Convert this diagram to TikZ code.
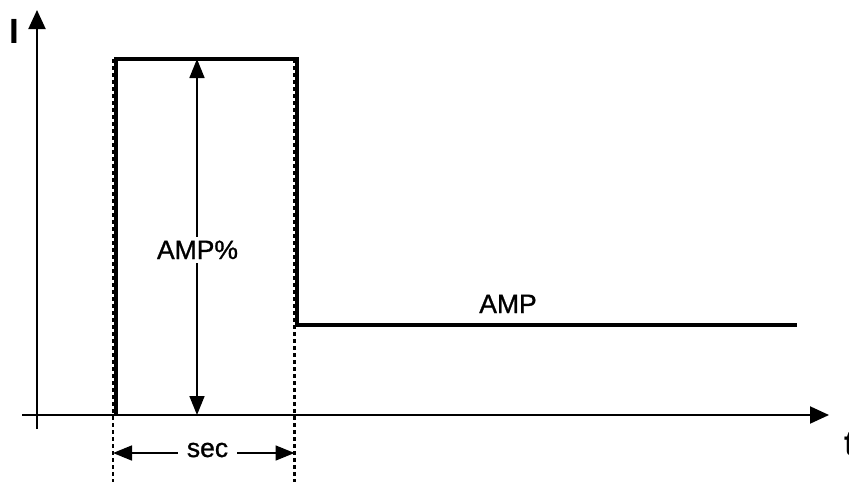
\documentclass[tikz,border=0pt]{standalone}
\usepackage{fontspec}
\setmainfont{Liberation Sans}
\newfontfamily\lblfont[FakeBold=1]{Liberation Sans}
\usetikzlibrary{arrows.meta}
\begin{document}
\begin{tikzpicture}[x=1pt,y=-1pt,
  axis/.style={line width=2pt,-{Triangle[length=19pt,width=17pt]}},
  pulse/.style={line width=4pt,line join=miter},
  guide/.style={line width=2.2pt,dash pattern=on 4pt off 3pt},
  dim/.style={line width=1.6pt,{Triangle[length=19pt,width=15pt]}-{Triangle[length=19pt,width=15pt]}},
  lbl/.style={font=\lblfont\fontsize{26.5}{26.5}\selectfont,inner sep=0pt,anchor=base},
  axlbl/.style={font=\bfseries\fontsize{35}{35}\selectfont,inner sep=0pt}]
\useasboundingbox (0,0) rectangle (849,482);
% coordinates
\coordinate (yb) at (37,429);
\coordinate (yt) at (37,10);
\coordinate (xl) at (22,415);
\coordinate (xr) at (829,415);
\coordinate (p0) at (116,415);
\coordinate (p1) at (116,59);
\coordinate (p2) at (297,59);
\coordinate (p3) at (297,325);
\coordinate (p4) at (797,325);
\coordinate (g1t) at (113,59);
\coordinate (g1b) at (113,482);
\coordinate (g2t) at (294.5,59);
\coordinate (g2b) at (294.5,482);
\coordinate (at) at (197,59);
\coordinate (ab) at (197,415);
\coordinate (sl) at (113,453);
\coordinate (sr) at (294.5,453);
% axes
\draw[axis] (yb) -- (yt);
\draw[axis] (xl) -- (xr);
\node[axlbl,anchor=base] (I) at (14.5,43) {I};
\node[axlbl,anchor=base west] (t) at (844,455) {t};
% pulse
\draw[pulse] (p0) -- (p1) -- (p2) -- (p3) -- (p4);
\draw[guide] (g1t) -- (g1b);
\draw[guide] (g2t) -- (g2b);
% dimension arrows
\draw[dim] (at) -- (ab);
\node[lbl,fill=white,inner xsep=3pt,inner ysep=4pt] (ampp) at (197.5,259) {AMP\%};
\draw[dim] (sl) -- (sr);
\node[lbl,fill=white,inner xsep=9pt,inner ysep=4pt] (sec) at (207.5,457) {sec};
\node[lbl] (amp) at (508,313) {AMP};
\end{tikzpicture}
\end{document}
